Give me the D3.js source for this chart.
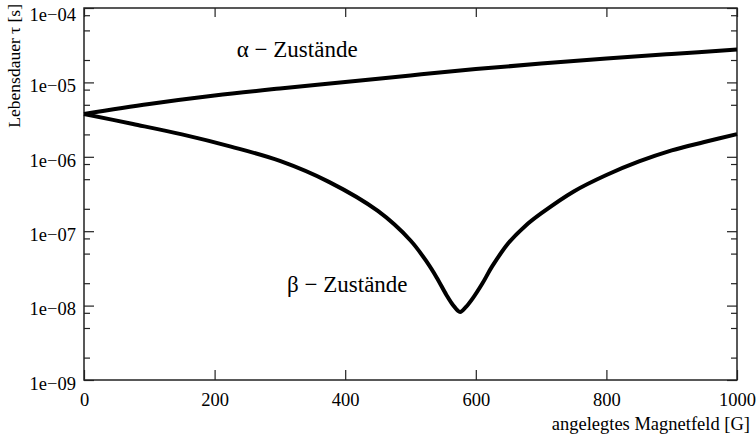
<!DOCTYPE html>
<html>
<head>
<meta charset="utf-8">
<script src="https://cdn.jsdelivr.net/npm/d3@7"></script>
<style>
  body { margin: 0; background: #fff; }
</style>
</head>
<body>
<svg id="chart" width="756" height="436"></svg>
<script>
// magnetic field [G] and lifetime tau [s]
var alphaField = [0, 100, 200, 300, 400, 500, 600, 700, 800, 900, 1000];
var alphaTau   = [3.76e-6, 5.13e-6, 6.67e-6, 8.28e-6, 1.01e-5, 1.24e-5, 1.51e-5, 1.79e-5, 2.09e-5, 2.41e-5, 2.77e-5];

var betaField = [0, 75, 150, 225, 300, 375, 450, 500, 525, 540, 555, 565, 576, 585, 595, 610, 625, 650, 675, 700, 750, 800, 850, 900, 950, 1000];
var betaTau   = [3.76e-6, 2.76e-6, 2.0e-6, 1.37e-6, 8.8e-7, 4.6e-7, 1.87e-7, 7.5e-8, 3.86e-8, 2.39e-8, 1.39e-8, 1.02e-8, 8.2e-9, 9.6e-9, 1.24e-8, 1.98e-8, 3.36e-8, 6.93e-8, 1.16e-7, 1.73e-7, 3.42e-7, 5.69e-7, 8.65e-7, 1.22e-6, 1.58e-6, 2.02e-6];

var xTicks = [0, 200, 400, 600, 800, 1000];
var yTicks = [1e-9, 1e-8, 1e-7, 1e-6, 1e-5, 1e-4];
var yMinorSteps = [2, 5, 8];

var labelText  = ["\u03b1 \u2212 Zust\u00e4nde", "\u03b2 \u2212 Zust\u00e4nde"];
var labelField = [234, 311];
var labelTau   = [2.19e-5, 1.52e-8];

var serif = "'Liberation Serif', 'Times New Roman', serif";

var margin = { top: 8, right: 19, bottom: 56, left: 84 };
var width = 756 - margin.left - margin.right;
var height = 436 - margin.top - margin.bottom;

var svg = d3.select("#chart");
var g = svg.append("g").attr("transform", "translate(" + margin.left + "," + margin.top + ")");

var x = d3.scaleLinear().domain([0, 1000]).range([0, width]);
var y = d3.scaleLog().domain([1e-9, 1e-4]).range([height, 0]);

var yMinor = [];
yTicks.slice(0, -1).forEach(function(d) {
    yMinorSteps.forEach(function(m) { yMinor.push(d * m); });
});

var fmt = function(d) {
    var e = Math.round(Math.log10(d));
    return "1e" + (e < 0 ? "\u2212" : "+") + d3.format("02d")(Math.abs(e));
};

// axes, ticks pointing inwards
g.append("g")
    .call(d3.axisLeft(y).tickValues(yTicks).tickSizeInner(-10).tickSizeOuter(0).tickPadding(8).tickFormat(fmt))
    .selectAll(".tick text")
    .attr("dy", function(d) { return d === 1e-4 ? "0.66em" : "0.5em"; });
g.append("g").call(d3.axisLeft(y).tickValues(yMinor).tickSizeInner(-6).tickSizeOuter(0).tickFormat(""));
g.append("g").attr("transform", "translate(" + width + ",0)")
    .call(d3.axisRight(y).tickValues(yTicks).tickSizeInner(-10).tickSizeOuter(0).tickFormat(""));
g.append("g").attr("transform", "translate(" + width + ",0)")
    .call(d3.axisRight(y).tickValues(yMinor).tickSizeInner(-6).tickSizeOuter(0).tickFormat(""));
g.append("g").attr("transform", "translate(0," + height + ")")
    .call(d3.axisBottom(x).tickValues(xTicks).tickSizeInner(-10).tickSizeOuter(0).tickPadding(13).tickFormat(d3.format("d")));
g.append("g")
    .call(d3.axisTop(x).tickValues(xTicks).tickSizeInner(-9).tickSizeOuter(0).tickFormat(""));

g.selectAll(".domain").remove();
g.selectAll(".tick line").attr("stroke", "#222").attr("stroke-width", 1.2);
g.selectAll(".tick text")
    .style("font-family", serif).style("font-size", "18.5px").attr("fill", "#000");

g.append("rect")
    .attr("width", width).attr("height", height)
    .attr("fill", "none").attr("stroke", "#222").attr("stroke-width", 1.5);

// curves
var line = d3.line()
    .x(function(d) { return x(d[0]); })
    .y(function(d) { return y(d[1]); })
    .curve(d3.curveCatmullRom.alpha(0.5));

g.append("path")
    .datum(d3.zip(alphaField, alphaTau))
    .attr("d", line)
    .attr("fill", "none").attr("stroke", "#000").attr("stroke-width", 4);

g.append("path")
    .datum(d3.zip(betaField, betaTau))
    .attr("d", line)
    .attr("fill", "none").attr("stroke", "#000").attr("stroke-width", 4).attr("stroke-linejoin", "round");

// state labels
g.selectAll("text.state").data(d3.zip(labelText, labelField, labelTau)).enter()
    .append("text").attr("class", "state")
    .attr("x", function(d) { return x(d[1]); })
    .attr("y", function(d) { return y(d[2]); })
    .style("font-family", serif).style("font-size", "23px")
    .text(function(d) { return d[0]; });

// axis titles
svg.append("text")
    .attr("x", 750).attr("y", 430)
    .attr("text-anchor", "end")
    .style("font-family", serif).style("font-size", "18.5px")
    .text("angelegtes Magnetfeld [G]");

svg.append("text")
    .attr("transform", "translate(20,4) rotate(-90)")
    .attr("text-anchor", "end")
    .style("font-family", serif).style("font-size", "17.5px")
    .text("Lebensdauer \u03c4 [s]");
</script>
</body>
</html>
